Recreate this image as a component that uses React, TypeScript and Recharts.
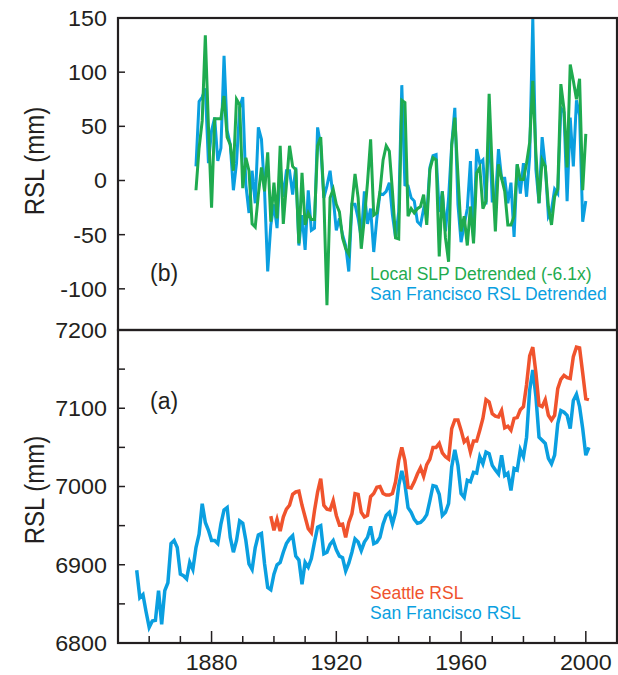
import React from 'react';
import { LineChart, Line, XAxis, YAxis } from 'recharts';

const INK = '#231f20';
const GREEN = '#1fab4f';
const BLUE = '#0a9fe0';
const RED = '#f0532d';
const FONT = '"Liberation Sans", Arial, Helvetica, sans-serif';

// panel (b): detrended series, one value per year from 1875
const detrendStart = 1875;
const slpDetrended = [
  -9, 30, 55, 134, 50, -25, 57, 57, 57, 78, 40, 33, 9, 75, 70, -7, 21, 9, -40, -43,
  -13, 12, -10, 26, -38, -2, -35, 32, -40, -4, 32, 13, 10, -58, 7, -41, -30, -36, -36, 32,
  40, -16, -115, -16, -8, -22, -29, -53, -63, -68, -22, 6, -16, -63, -35, -2, 38, -32, -30, -10,
  19, 32, 27, -10, -53, -54, 74, 72, -33, -26, -30, -26, -24, -13, -41, 10, 21, 19, -70, -10,
  -53, -75, 33, 58, 5, -47, -33, -60, -24, -58, 7, 12, -26, -19, 80, 9, -47, 15, 2, -10,
  -41, -41, -33, 15, 1, 1, 16, 35, 92, 25, -21, 19, 13, -24, -41, -15, -8, 89, 66, 12,
  107, 92, 75, 94, -9, 43,
];
const sfDetrended = [
  13, 73, 77, 85, 16, 46, 58, 18, 30, 115, 46, 33, -9, 16, 67, 77, -4, -30, 9, -21,
  49, 38, -10, -84, -41, -22, -44, 12, -15, 9, 9, -13, 12, -60, -32, -64, -9, -46, -44, 49,
  32, -16, -5, 9, -16, -46, -35, -50, -60, -84, -22, -22, -35, -53, -10, -40, -26, -66, -35, -12,
  -13, -10, -2, -32, -53, -29, 88, -4, -5, -16, -19, -38, -41, -26, -32, 12, 23, 24, -29, -10,
  -47, -16, 33, 67, -22, -57, -41, -26, 18, -53, 29, 16, 19, -22, 52, -19, -19, 29, 2, 2,
  -21, -2, -52, 15, -12, 16, -15, 22, 150, 10, -21, 40, 13, -33, -27, -8, -12, 67, 63, -19,
  58, 13, 74, 60, -38, -19,
];

// panel (a): annual mean relative sea level
const sfStart = 1856;
const sfRsl = [
  6893, 6858, 6862, 6840, 6820, 6828, 6829, 6867, 6824, 6867, 6877, 6927, 6931, 6922, 6888, 6886, 6882, 6903, 6894, 6922,
  6939, 6978, 6954, 6944, 6931, 6931, 6927, 6952, 6970, 6973, 6935, 6916, 6931, 6956, 6953, 6931, 6901, 6894, 6922, 6938,
  6940, 6901, 6871, 6868, 6888, 6900, 6903, 6916, 6927, 6933, 6937, 6911, 6906, 6875, 6903, 6897, 6908, 6929, 6948, 6950,
  6914, 6916, 6926, 6931, 6919, 6911, 6909, 6892, 6902, 6916, 6933, 6929, 6918, 6929, 6935, 6949, 6927, 6929, 6935, 6952,
  6963, 6967, 6952, 6967, 7001, 7020, 7003, 6973, 6967, 6958, 6953, 6954, 6958, 6964, 6982, 7001, 7000, 6990, 6963, 6967,
  6978, 7025, 7047, 7027, 6991, 6986, 7008, 7006, 7018, 7017, 7038, 7029, 7044, 7042, 7027, 7021, 7016, 7040, 7014, 7017,
  6995, 7023, 7021, 7047, 7038, 7063, 7123, 7149, 7115, 7063, 7059, 7055, 7036, 7029, 7040, 7080, 7097, 7095, 7091, 7074,
  7110, 7118, 7102, 7074, 7040, 7050,
];
const seattleStart = 1899;
const seattleRsl = [
  6962, 6944, 6958, 6943, 6961, 6971, 6976, 6990, 6993, 6994, 6976, 6961, 6946, 6941, 6969, 6993, 7010, 6976, 6971, 6970,
  6982, 6963, 6951, 6952, 6935, 6954, 6965, 6991, 6990, 6967, 6961, 6963, 6987, 6991, 6999, 7000, 6991, 6989, 6989, 6991,
  7006, 7033, 7050, 7033, 6999, 6998, 7006, 7016, 7024, 7013, 7028, 7035, 7050, 7050, 7055, 7043, 7038, 7035, 7074, 7085,
  7085, 7072, 7057, 7061, 7044, 7058, 7058, 7072, 7087, 7111, 7108, 7093, 7090, 7089, 7097, 7075, 7077, 7072, 7087, 7088,
  7098, 7102, 7130, 7167, 7178, 7145, 7104, 7102, 7111, 7091, 7085, 7091, 7125, 7137, 7142, 7139, 7138, 7166, 7178, 7177,
  7145, 7112, 7111,
];

const xDomain = [1850, 2010];
const topDomain = [-138, 150];
const bottomDomain = [6800, 7200];
const xTicks = [1860, 1870, 1880, 1890, 1900, 1910, 1920, 1930, 1940, 1950, 1960, 1970, 1980, 1990, 2000];
const xLabels = [1880, 1920, 1960, 2000];
const topYTicks = [-100, -50, 0, 50, 100, 150];
const bottomYTicks = [6800, 6850, 6900, 6950, 7000, 7050, 7100, 7150, 7200];
const bottomYLabels = [6800, 6900, 7000, 7100, 7200];

const topData = slpDetrended.map((v, i) => ({ year: detrendStart + i, slp: v, sf: sfDetrended[i] }));
const bottomData = sfRsl.map((v, i) => {
  const year = sfStart + i;
  const k = year - seattleStart;
  return { year, sf: v, sea: k >= 0 ? seattleRsl[k] : null };
});

// layout of the two stacked panels
const W = 618;
const LEFT = 118;
const RIGHT_W = 1;
const TOP_M = 18;
const MID = 330;
const BOTTOM_H = 345;
const XLAB_H = 32;

const TICK = 7;
const LONG = 12;

// ticks point into the plot, labels sit outside
const makeTick = (side: string, labels: number[] = [], longAt: number[] = []) => (props: any) => {
  const { x, y, payload } = props;
  const v = payload.value;
  const len = longAt.includes(v) ? LONG : TICK;
  const show = labels.includes(v);
  const txt = { fontFamily: FONT, fontSize: 22, fill: INK };
  if (side === 'left') {
    return (
      <g>
        <line x1={x} x2={x + len} y1={y} y2={y} stroke={INK} strokeWidth={1.5} />
        {show && (
          <text transform={`translate(${x - 11},${y}) scale(1.06,1)`} dy="0.36em" textAnchor="end" style={txt}>{v}</text>
        )}
      </g>
    );
  }
  if (side === 'right') {
    return <line x1={x} x2={x - len} y1={y} y2={y} stroke={INK} strokeWidth={1.5} />;
  }
  if (side === 'top') {
    return <line x1={x} x2={x} y1={y} y2={y + len} stroke={INK} strokeWidth={1.5} />;
  }
  return (
    <g>
      <line x1={x} x2={x} y1={y} y2={y - len} stroke={INK} strokeWidth={1.5} />
      {show && (
        <text transform={`translate(${x},${y + 27}) scale(1.06,1)`} textAnchor="middle" style={txt}>{v}</text>
      )}
    </g>
  );
};

const axisCommon = { tickSize: 0, tickMargin: 0, tickLine: false, axisLine: false, interval: 0 as const };

export default function App() {
  const plotW = W - LEFT - RIGHT_W;
  const bottomPlotH = BOTTOM_H - XLAB_H;
  return (
    <div style={{ position: 'absolute', left: 0, top: 0, width: W, height: 675, background: '#fff' }}>
      <style>{'.recharts-surface { overflow: visible; }'}</style>
      <div style={{ position: 'absolute', left: 0, top: 0 }}>
        <LineChart width={W} height={MID} data={topData} margin={{ top: TOP_M, right: 0, bottom: 0, left: 0 }}>
          <XAxis dataKey="year" type="number" domain={xDomain} ticks={xTicks} height={0} {...axisCommon}
            tick={makeTick('bottom', [], xLabels)} />
          <XAxis xAxisId="t" dataKey="year" type="number" orientation="top" domain={xDomain} ticks={xTicks}
            height={0} {...axisCommon} tick={makeTick('top', [], xLabels)} />
          <YAxis type="number" domain={topDomain} ticks={topYTicks} width={LEFT} {...axisCommon}
            tick={makeTick('left', topYTicks)} />
          <YAxis yAxisId="r" orientation="right" type="number" domain={topDomain} ticks={topYTicks} width={RIGHT_W}
            {...axisCommon} tick={makeTick('right')} />
          <Line dataKey="sf" type="linear" stroke={BLUE} strokeWidth={3} dot={false} isAnimationActive={false} />
          <Line dataKey="slp" type="linear" stroke={GREEN} strokeWidth={3} dot={false} isAnimationActive={false} />
        </LineChart>
      </div>
      <div style={{ position: 'absolute', left: 0, top: MID }}>
        <LineChart width={W} height={BOTTOM_H} data={bottomData} margin={{ top: 0, right: 0, bottom: 0, left: 0 }}>
          <XAxis dataKey="year" type="number" domain={xDomain} ticks={xTicks} height={XLAB_H} {...axisCommon}
            tick={makeTick('bottom', xLabels, xLabels)} />
          <XAxis xAxisId="t" dataKey="year" type="number" orientation="top" domain={xDomain} ticks={xTicks}
            height={0} {...axisCommon} tick={makeTick('top', [], xLabels)} />
          <YAxis type="number" domain={bottomDomain} ticks={bottomYTicks} width={LEFT} {...axisCommon}
            tick={makeTick('left', bottomYLabels)} />
          <YAxis yAxisId="r" orientation="right" type="number" domain={bottomDomain} ticks={bottomYTicks}
            width={RIGHT_W} {...axisCommon} tick={makeTick('right')} />
          <Line dataKey="sf" type="linear" stroke={BLUE} strokeWidth={3.5} dot={false} isAnimationActive={false} />
          <Line dataKey="sea" type="linear" stroke={RED} strokeWidth={3.5} dot={false} isAnimationActive={false} />
        </LineChart>
      </div>
      <svg width={W} height={675} style={{ position: 'absolute', left: 0, top: 0, pointerEvents: 'none' }}>
        <rect x={LEFT} y={TOP_M} width={plotW} height={MID - TOP_M} fill="none" stroke={INK} strokeWidth={2.2} />
        <rect x={LEFT} y={MID} width={plotW} height={bottomPlotH} fill="none" stroke={INK} strokeWidth={2.2} />
        <g style={{ fontFamily: FONT }}>
          <text transform="translate(34,161) rotate(-90) scale(1,1.15)" textAnchor="middle" dy="0.36em" fontSize={24} fill={INK}>RSL (mm)</text>
          <text transform="translate(34,490) rotate(-90) scale(1,1.15)" textAnchor="middle" dy="0.36em" fontSize={24} fill={INK}>RSL (mm)</text>
          <text x={150} y={281} fontSize={23} fill={INK}>(b)</text>
          <text x={150} y={409} fontSize={23} fill={INK}>(a)</text>
          <text x={370} y={280} fontSize={17.5} fill={GREEN}>Local SLP Detrended (-6.1x)</text>
          <text x={370} y={300} fontSize={17.5} fill={BLUE}>San Francisco RSL Detrended</text>
          <text x={370} y={599} fontSize={17.5} fill={RED}>Seattle RSL</text>
          <text x={370} y={619} fontSize={17.5} fill={BLUE}>San Francisco RSL</text>
        </g>
      </svg>
    </div>
  );
}
